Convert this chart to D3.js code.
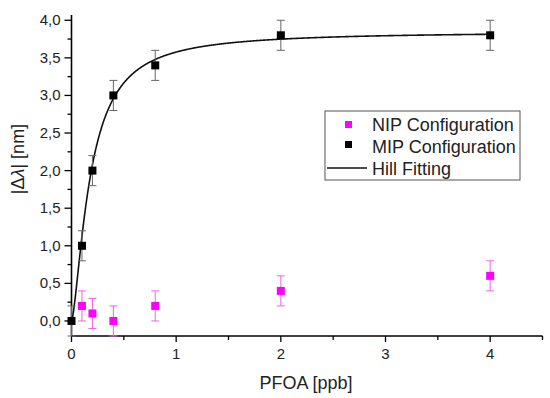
<!DOCTYPE html>
<html>
<head>
<meta charset="utf-8">
<script src="https://cdn.jsdelivr.net/npm/d3@7"></script>
<style>
  body { margin: 0; background: #fff; }
  text { font-family: Arial, "Liberation Sans", sans-serif; }
</style>
</head>
<body>
<svg width="550" height="398"></svg>
<script>
// data
var conc = [0, 0.1, 0.2, 0.4, 0.8, 2, 4];
var mip = [0, 1.0, 2.0, 3.0, 3.4, 3.8, 3.8];
var mipErr = [0.2, 0.2, 0.2, 0.2, 0.2, 0.2, 0.2];
var nipConc = [0.1, 0.2, 0.4, 0.8, 2, 4];
var nip = [0.2, 0.1, 0.0, 0.2, 0.4, 0.6];
var nipErr = [0.2, 0.2, 0.2, 0.2, 0.2, 0.2];
var xTicks = [0, 1, 2, 3, 4];
var yTicks = [0, 0.5, 1, 1.5, 2, 2.5, 3, 3.5, 4];
var legendLabels = ["NIP Configuration", "MIP Configuration", "Hill Fitting"];
// Hill fit parameters
var hillVmax = 3.85, hillK = 0.18, hillN = 1.5;

var svg = d3.select("svg");
var x = d3.scaleLinear().domain([0, 4.5]).range([71.5, 542.5]);
var y = d3.scaleLinear().domain([-0.2, 4.07]).range([336, 15]);

var fmt = function(d) { return d3.format(".1f")(d).replace(".", ","); };

// x axis
var xAxis = svg.append("g").attr("transform", "translate(0,336)");
xAxis.append("line").attr("x1", x(0)).attr("x2", x(4.5)).attr("stroke", "#000").attr("stroke-width", 1.6);
xAxis.selectAll(".minor").data(d3.range(0, 4.51, 0.5)).enter().append("line")
  .attr("x1", function(d) { return x(d); }).attr("x2", function(d) { return x(d); })
  .attr("y1", 0).attr("y2", function(d) { return d % 1 === 0 ? 6 : 4; })
  .attr("stroke", "#000").attr("stroke-width", 1.3);
xAxis.selectAll("text").data(xTicks).enter().append("text")
  .attr("x", function(d) { return x(d); }).attr("y", 23)
  .attr("text-anchor", "middle").attr("font-size", 15).attr("fill", "#222")
  .text(function(d) { return d; });

// y axis
var yAxis = svg.append("g").attr("transform", "translate(71.5,0)");
yAxis.append("line").attr("y1", y(-0.2)).attr("y2", y(4.07)).attr("stroke", "#000").attr("stroke-width", 1.6);
yAxis.selectAll(".minor").data(d3.range(-0.25, 4.01, 0.25).filter(function(d) { return d >= -0.2; })).enter().append("line")
  .attr("y1", function(d) { return y(d); }).attr("y2", function(d) { return y(d); })
  .attr("x1", 0).attr("x2", function(d) { return Math.abs(d * 2 - Math.round(d * 2)) < 1e-6 ? -7 : -4; })
  .attr("stroke", "#000").attr("stroke-width", 1.3);
yAxis.selectAll("text").data(yTicks).enter().append("text")
  .attr("x", -11).attr("y", function(d) { return y(d) + 5; })
  .attr("text-anchor", "end").attr("font-size", 15).attr("fill", "#222")
  .text(fmt);

// axis titles
svg.append("text").attr("x", 306).attr("y", 389).attr("text-anchor", "middle")
  .attr("font-size", 18).attr("fill", "#222").text("PFOA [ppb]");
var yt = svg.append("text").attr("transform", "translate(24,159) rotate(-90)")
  .attr("text-anchor", "middle").attr("font-size", 18).attr("fill", "#222");
yt.append("tspan").text("|\u0394");
yt.append("tspan").attr("font-style", "italic").text("\u03bb");
yt.append("tspan").text("| [nm]");

// Hill fitting curve
var hill = function(c) { return hillVmax * Math.pow(c, hillN) / (Math.pow(hillK, hillN) + Math.pow(c, hillN)); };
var curveX = d3.range(0, 4.001, 0.005);
svg.append("path")
  .datum(curveX)
  .attr("d", d3.line().x(function(d) { return x(d); }).y(function(d) { return y(hill(d)); }))
  .attr("fill", "none").attr("stroke", "#111").attr("stroke-width", 1.6);

function errorBars(xs, ys, es, color) {
  var g = svg.append("g").attr("stroke", color).attr("stroke-width", 1);
  xs.forEach(function(c, i) {
    var cx = x(c), lo = y(ys[i] - es[i]), hi = y(ys[i] + es[i]);
    g.append("line").attr("x1", cx).attr("x2", cx).attr("y1", Math.min(lo, 336)).attr("y2", hi);
    g.append("line").attr("x1", cx - 4).attr("x2", cx + 4).attr("y1", hi).attr("y2", hi);
    if (lo <= 336) g.append("line").attr("x1", cx - 4).attr("x2", cx + 4).attr("y1", lo).attr("y2", lo);
  });
}
errorBars(nipConc, nip, nipErr, "#f060f0");
errorBars(conc, mip, mipErr, "#666");

svg.selectAll(".nip").data(nipConc).enter().append("rect")
  .attr("x", function(d) { return x(d) - 4; }).attr("y", function(d, i) { return y(nip[i]) - 4; })
  .attr("width", 8).attr("height", 8).attr("fill", "#ff00ff");
svg.selectAll(".mip").data(conc).enter().append("rect")
  .attr("x", function(d) { return x(d) - 4; }).attr("y", function(d, i) { return y(mip[i]) - 4; })
  .attr("width", 8).attr("height", 8).attr("fill", "#000");

// legend
var lg = svg.append("g");
lg.append("rect").attr("x", 325).attr("y", 111).attr("width", 195).attr("height", 69)
  .attr("fill", "#fff").attr("stroke", "#555").attr("stroke-width", 1);
lg.append("rect").attr("x", 345).attr("y", 121).attr("width", 7).attr("height", 7).attr("fill", "#ff00ff");
lg.append("rect").attr("x", 345).attr("y", 141).attr("width", 7).attr("height", 7).attr("fill", "#000");
lg.append("line").attr("x1", 327).attr("x2", 367).attr("y1", 168).attr("y2", 168).attr("stroke", "#111").attr("stroke-width", 1.5);
lg.selectAll("text").data(legendLabels).enter().append("text")
  .attr("x", 372).attr("y", function(d, i) { return 131 + i * 22; })
  .attr("font-size", 18).attr("fill", "#222").text(function(d) { return d; });
</script>
</body>
</html>
